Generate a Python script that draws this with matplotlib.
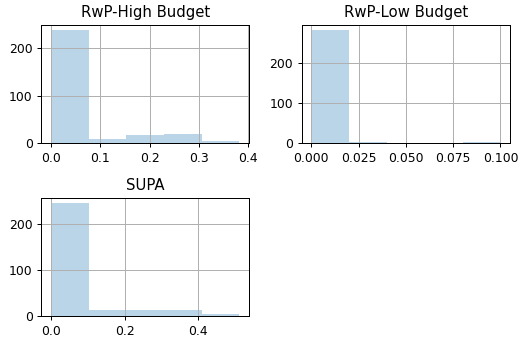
import numpy as np
import matplotlib
matplotlib.use("Agg")
import matplotlib.pyplot as plt

titles = ["RwP-High Budget", "RwP-Low Budget", "SUPA"]
bin_max = [0.382, 0.1, 0.512]
counts = [
    [238, 9, 16, 20, 5],
    [283, 3, 0, 0, 2],
    [246, 12, 13, 13, 4],
]

dpi = 89
fig = plt.figure(figsize=(524 / dpi, 343 / dpi), dpi=dpi)

positions = [
    [0.079, 0.583, 0.396, 0.345],
    [0.576, 0.583, 0.397, 0.345],
    [0.079, 0.079, 0.396, 0.345],
]

for title, mx, c, pos in zip(titles, bin_max, counts, positions):
    ax = fig.add_axes(pos)
    edges = np.linspace(0, mx, len(c) + 1)
    ax.hist(edges[:-1], bins=edges, weights=c, alpha=0.3, color="C0")
    ax.set_title(title)
    ax.grid(True)

fig.savefig("out.png", dpi=dpi)
